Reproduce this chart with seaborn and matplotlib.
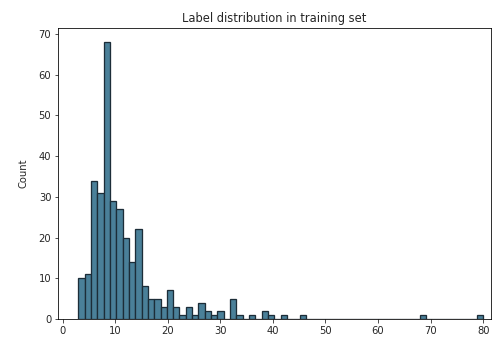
import numpy as np
import pandas as pd
import matplotlib
matplotlib.use("Agg")
import matplotlib.pyplot as plt
import seaborn as sns

# Histogram counts (64 bins spanning labels 3..80)
bin_range = (3, 80)
n_bins = 64
counts = [10, 11, 34, 31, 68, 29, 27, 20, 14, 22,
          8, 5, 5, 3, 7, 3, 1, 3, 1, 4,
          2, 1, 2, 0, 5, 1, 0, 1, 0, 2,
          1, 0, 1, 0, 0, 1, 0, 0, 0, 0,
          0, 0, 0, 0, 0, 0, 0, 0, 0, 0,
          0, 0, 0, 0, 1, 0, 0, 0, 0, 0,
          0, 0, 0, 1]

edges = np.linspace(bin_range[0], bin_range[1], n_bins + 1)
hist_df = pd.DataFrame({'label': (edges[:-1] + edges[1:]) / 2, 'count': counts})

dpi = 72
fig = plt.figure(figsize=(497 / dpi, 343 / dpi), dpi=dpi)
ax = fig.add_axes([0.1173, 0.070, 0.988 - 0.1173, 0.9175 - 0.070])

sns.histplot(data=hist_df, x='label', weights='count', bins=n_bins,
             binrange=bin_range, ax=ax, color='#4a8099', alpha=1,
             edgecolor='#1c2d38', linewidth=1.3)
ax.set_xlim(-0.8, 81.5)
ax.set_xlabel('')
ax.set_ylabel('Count', fontsize=10, color='#262626', labelpad=10)
ax.set_title('Label distribution in training set', fontsize=11.5, color='#262626')
ax.tick_params(colors='#262626', labelsize=10)

fig.savefig('out.png', dpi=dpi)
